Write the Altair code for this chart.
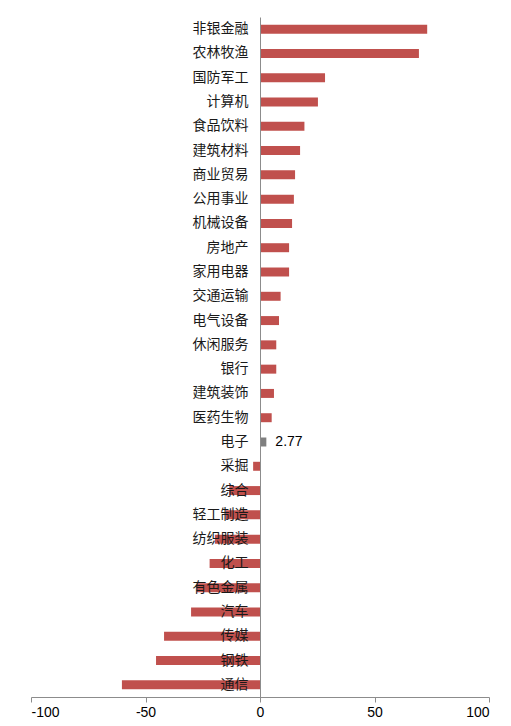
import altair as alt
import pandas as pd

# Industry return ranking (%)
industries = [
    "非银金融", "农林牧渔", "国防军工", "计算机", "食品饮料", "建筑材料", "商业贸易",
    "公用事业", "机械设备", "房地产", "家用电器", "交通运输", "电气设备", "休闲服务",
    "银行", "建筑装饰", "医药生物", "电子", "采掘", "综合", "轻工制造", "纺织服装",
    "化工", "有色金属", "汽车", "传媒", "钢铁", "通信",
]
returns = [
    73.0, 69.4, 28.4, 25.3, 19.4, 17.5, 15.3,
    14.8, 14.0, 12.7, 12.7, 9.0, 8.3, 7.1,
    7.1, 6.1, 5.1, 2.77, -3.0, -13.4, -15.0, -19.7,
    -22.0, -27.6, -30.1, -41.9, -45.4, -60.3,
]
highlight = "电子"

df = pd.DataFrame({"industry": industries, "ret": returns})
df["group"] = ["hl" if n == highlight else "base" for n in industries]

y_enc = alt.Y(
    "industry:N",
    sort=industries,
    title=None,
    scale=alt.Scale(paddingInner=0.63, paddingOuter=0.315),
    axis=alt.Axis(
        offset=-229,
        zindex=1,
        ticks=False,
        domainColor="#8c8c8c",
        domainWidth=1,
        labelFont="Noto Sans CJK SC",
        labelFontSize=14,
        labelColor="#1a1a1a",
        labelPadding=12,
    ),
)
x_enc = alt.X(
    "ret:Q",
    title=None,
    scale=alt.Scale(domain=[-100, 100], nice=False),
    axis=alt.Axis(
        values=[-100, -50, 0, 50, 100],
        labelExpr="datum.value < 0 ? '-' + format(-datum.value, 'd') : format(datum.value, 'd')",
        grid=False,
        domainColor="#8c8c8c",
        tickColor="#8c8c8c",
        tickSize=5,
        labelFont="Liberation Sans",
        labelFontSize=14,
        labelColor="#000000",
        labelPadding=3,
    ),
)

bars = alt.Chart(df).mark_bar().encode(
    x=x_enc,
    y=y_enc,
    color=alt.Color(
        "group:N",
        scale=alt.Scale(domain=["base", "hl"], range=["#C0504D", "#7F7F7F"]),
        legend=None,
    ),
)

value_label = alt.Chart(df[df["industry"] == highlight]).mark_text(
    align="left", baseline="middle", dx=9, font="Liberation Sans", fontSize=14, color="#000000"
).encode(
    x="ret:Q",
    y=alt.Y("industry:N", sort=industries),
    text=alt.Text("ret:Q", format=".2f"),
)

chart = (
    alt.layer(bars, value_label)
    .properties(
        width=458,
        height=680,
        autosize=alt.AutoSizeParams(type="none"),
        padding={"left": 31, "top": 17, "right": 22, "bottom": 29},
        background="white",
    )
    .configure_view(stroke=None)
)

chart.save("out.html", embed_options={"renderer": "svg", "actions": False})
